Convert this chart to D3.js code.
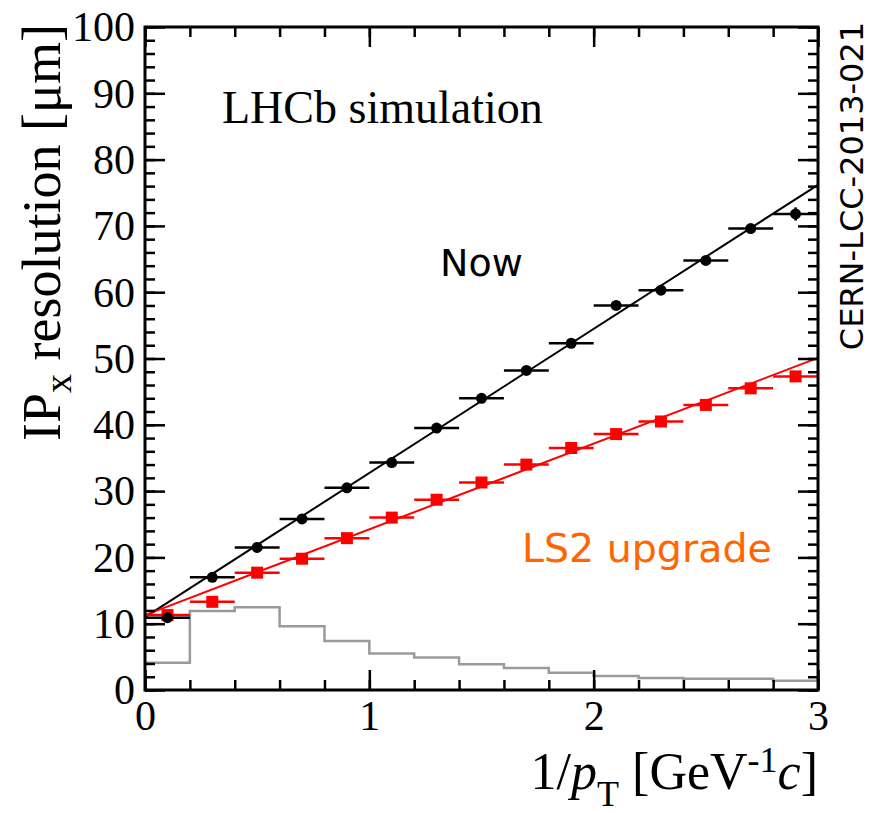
<!DOCTYPE html>
<html>
<head>
<meta charset="utf-8">
<script src="https://cdn.jsdelivr.net/npm/d3@7"></script>
<style>
  body { margin: 0; background: #fff; }
  svg { display: block; }
  .serif { font-family: "Liberation Serif", "Times New Roman", serif; }
  .sans { font-family: "DejaVu Sans", Verdana, sans-serif; }
</style>
</head>
<body>
<div id="chart-area"></div>
<script>
// bin centres in 1/pT [GeV^-1 c]
let binCentres = [0.1, 0.3, 0.5, 0.7, 0.9, 1.1, 1.3, 1.5, 1.7, 1.9, 2.1, 2.3, 2.5, 2.7, 2.9];
// IPx resolution [um], current VELO
let nowValues = [10.9, 17.0, 21.5, 25.8, 30.5, 34.3, 39.5, 44.0, 48.2, 52.3, 58.0, 60.3, 64.8, 69.6, 71.8];
let nowErrors = [0.3, 0.3, 0.3, 0.3, 0.3, 0.3, 0.3, 0.3, 0.3, 0.3, 0.4, 0.4, 0.5, 0.6, 1.0];
// IPx resolution [um], LS2 upgrade
let upgValues = [11.3, 13.3, 17.7, 19.8, 22.9, 26.0, 28.7, 31.3, 34.0, 36.5, 38.6, 40.5, 43.0, 45.5, 47.3];
// linear fits: [value at 0, value at 3]
let nowFit = [11.0, 76.2];
let upgFit = [11.3, 50.1];
// pT spectrum (arbitrary units), bins of 0.2
let histEdges = [0, 0.2, 0.4, 0.6, 0.8, 1.0, 1.2, 1.4, 1.6, 1.8, 2.0, 2.2, 2.4, 2.6, 2.8, 3.0];
let histValues = [4.1, 11.9, 12.5, 9.6, 7.4, 5.5, 4.9, 3.9, 3.3, 2.6, 2.1, 1.8, 1.7, 1.7, 1.4];
let xTicks = [0, 1, 2, 3];
let yTicks = [0, 10, 20, 30, 40, 50, 60, 70, 80, 90, 100];

let margin = {left: 145, top: 27, right: 52, bottom: 123};
let width = 870 - margin.left - margin.right;
let height = 813 - margin.top - margin.bottom;

let svg = d3.select('#chart-area')
    .append('svg')
    .attr('width', 870)
    .attr('height', 813);

let g = svg.append('g')
    .attr('transform', 'translate(' + margin.left + ', ' + margin.top + ')');

let x = d3.scaleLinear().domain([0, 3]).range([0, width]);
let y = d3.scaleLinear().domain([0, 100]).range([height, 0]);

let xMinor = d3.range(0, 3.0001, 0.2).map(d => +d.toFixed(1));
let yMinor = d3.range(0, 100.0001, 2);

// histogram (grey step line)
let stepPts = [];
histValues.forEach(function(v, i) {
    stepPts.push([histEdges[i], v]);
    stepPts.push([histEdges[i + 1], v]);
});
g.append('path')
    .datum(stepPts)
    .attr('fill', 'none')
    .attr('stroke', '#9a9a9a')
    .attr('stroke-width', 2.5)
    .attr('d', d3.line().x(d => x(d[0])).y(d => y(d[1])));

// fits
let fitLine = d3.line().x(d => x(d[0])).y(d => y(d[1]));
g.append('path')
    .datum([[0, nowFit[0]], [3, nowFit[1]]])
    .attr('stroke', '#000').attr('stroke-width', 2).attr('fill', 'none')
    .attr('d', fitLine);
g.append('path')
    .datum([[0, upgFit[0]], [3, upgFit[1]]])
    .attr('stroke', '#ff0000').attr('stroke-width', 2).attr('fill', 'none')
    .attr('d', fitLine);

// upgrade points (red squares)
let upg = g.append('g');
binCentres.forEach(function(c, i) {
    upg.append('line')
        .attr('x1', x(c - 0.1)).attr('x2', x(c + 0.1))
        .attr('y1', y(upgValues[i])).attr('y2', y(upgValues[i]))
        .attr('stroke', '#ff0000').attr('stroke-width', 2.5);
    upg.append('rect')
        .attr('x', x(c) - 6).attr('y', y(upgValues[i]) - 6)
        .attr('width', 12).attr('height', 12)
        .attr('fill', '#ff0000');
});

// current points (black circles)
let now = g.append('g');
binCentres.forEach(function(c, i) {
    now.append('line')
        .attr('x1', x(c - 0.1)).attr('x2', x(c + 0.1))
        .attr('y1', y(nowValues[i])).attr('y2', y(nowValues[i]))
        .attr('stroke', '#000').attr('stroke-width', 2.5);
    now.append('line')
        .attr('x1', x(c)).attr('x2', x(c))
        .attr('y1', y(nowValues[i] - nowErrors[i])).attr('y2', y(nowValues[i] + nowErrors[i]))
        .attr('stroke', '#000').attr('stroke-width', 2.5);
    now.append('circle')
        .attr('cx', x(c)).attr('cy', y(nowValues[i]))
        .attr('r', 5.5)
        .attr('fill', '#000');
});

// axes, ticks inside, on all four sides
function styleAxis(sel) {
    sel.select('.domain').remove();
    sel.selectAll('line').attr('stroke', '#000').attr('stroke-width', 2.5);
}
g.append('g').attr('transform', 'translate(0,' + height + ')')
    .call(d3.axisBottom(x).tickValues(xMinor).tickSize(-10).tickFormat(''))
    .call(styleAxis);
g.append('g').attr('transform', 'translate(0,' + height + ')')
    .call(d3.axisBottom(x).tickValues(xTicks).tickSize(-20).tickPadding(40).tickFormat(d3.format('d')))
    .call(styleAxis)
    .selectAll('text')
        .attr('class', 'serif')
        .attr('font-size', '42px')
        .attr('fill', '#000')
        .attr('dy', '0');
g.append('g')
    .call(d3.axisTop(x).tickValues(xMinor).tickSize(-10).tickFormat(''))
    .call(styleAxis);
g.append('g')
    .call(d3.axisTop(x).tickValues(xTicks).tickSize(-20).tickFormat(''))
    .call(styleAxis);

g.append('g')
    .call(d3.axisLeft(y).tickValues(yMinor).tickSize(-10).tickFormat(''))
    .call(styleAxis);
g.append('g')
    .call(d3.axisLeft(y).tickValues(yTicks).tickSize(-20).tickPadding(10).tickFormat(d3.format('d')))
    .call(styleAxis)
    .selectAll('text')
        .attr('class', 'serif')
        .attr('font-size', '42px')
        .attr('fill', '#000')
        .attr('dy', '0.33em');
g.append('g').attr('transform', 'translate(' + width + ',0)')
    .call(d3.axisRight(y).tickValues(yMinor).tickSize(-10).tickFormat(''))
    .call(styleAxis);
g.append('g').attr('transform', 'translate(' + width + ',0)')
    .call(d3.axisRight(y).tickValues(yTicks).tickSize(-20).tickFormat(''))
    .call(styleAxis);

// frame
g.append('rect')
    .attr('x', 0).attr('y', 0)
    .attr('width', width).attr('height', height)
    .attr('fill', 'none')
    .attr('stroke', '#000')
    .attr('stroke-width', 3);

// y label
let yl = svg.append('text')
    .attr('class', 'serif')
    .attr('font-size', '54px')
    .attr('text-anchor', 'end')
    .attr('transform', 'translate(60, 24) rotate(-90)');
yl.append('tspan').text('IP');
yl.append('tspan').attr('font-size', '38px').attr('dy', '11').text('x');
yl.append('tspan').attr('dy', '-11').text(' resolution [\u03bcm]');

// x label
let xl = svg.append('text')
    .attr('class', 'serif')
    .attr('font-size', '52px')
    .attr('text-anchor', 'end')
    .attr('x', 818)
    .attr('y', 789);
xl.append('tspan').text('1/');
xl.append('tspan').attr('font-style', 'italic').text('p');
xl.append('tspan').attr('font-size', '36px').attr('dy', '17').text('T');
xl.append('tspan').attr('dy', '-17').text(' [GeV');
xl.append('tspan').attr('font-size', '36px').attr('dy', '-17').text('-1');
xl.append('tspan').attr('font-style', 'italic').attr('dy', '17').text('c');
xl.append('tspan').text(']');

// annotations
svg.append('text')
    .attr('class', 'serif')
    .attr('font-size', '46px')
    .attr('x', 222).attr('y', 123)
    .text('LHCb simulation');
svg.append('text')
    .attr('class', 'sans')
    .attr('font-size', '38px')
    .attr('x', 440).attr('y', 276)
    .text('Now');
svg.append('text')
    .attr('class', 'sans')
    .attr('font-size', '39.5px')
    .attr('fill', '#ff6600')
    .attr('x', 522).attr('y', 562)
    .text('LS2 upgrade');
svg.append('text')
    .attr('class', 'sans')
    .attr('font-size', '32px')
    .attr('text-anchor', 'middle')
    .attr('transform', 'translate(863, 186) rotate(-90)')
    .text('CERN-LCC-2013-021');
</script>
</body>
</html>
